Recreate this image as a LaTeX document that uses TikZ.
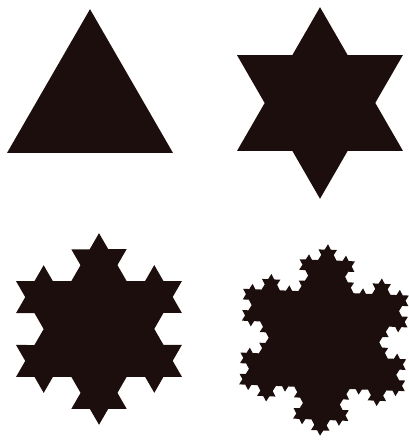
\documentclass[tikz,border=0pt]{standalone}
\usepackage{tikz}
\usetikzlibrary{decorations.fractals}
\definecolor{ink}{RGB}{28,14,12}

\begin{document}
\begin{tikzpicture}[koch/.style={ink, decoration=Koch snowflake}]
    \useasboundingbox (0,0) rectangle (8.18,8.84);
    \def\R{1.916}

    \coordinate (C0) at (1.80,6.74);
    \coordinate (C1) at (6.40,6.78);
    \coordinate (C2) at (1.98,2.26);
    \coordinate (C3) at (6.48,2.04);

    % step 0
    \begin{scope}[shift={(C0)}]
    \fill [ink] (90:\R)--(-30:\R)--(210:\R)--cycle;
    \end{scope}

    % step 1
    \begin{scope}[shift={(C1)}]
    \fill [koch] decorate{ (90:\R)--(-30:\R)--(210:\R)--(90:\R) };
    \end{scope}

    % step 2
    \begin{scope}[shift={(C2)}]
    \fill [koch] decorate{ decorate{ (90:\R)--(-30:\R)--(210:\R)--(90:\R) }};
    \end{scope}

    % step 3
    \begin{scope}[shift={(C3)}, rotate=-2.4]
    \fill [koch] decorate{ decorate{ decorate{ (90:\R)--(-30:\R)--(210:\R)--(90:\R) }}};
    \end{scope}
\end{tikzpicture}
\end{document}
